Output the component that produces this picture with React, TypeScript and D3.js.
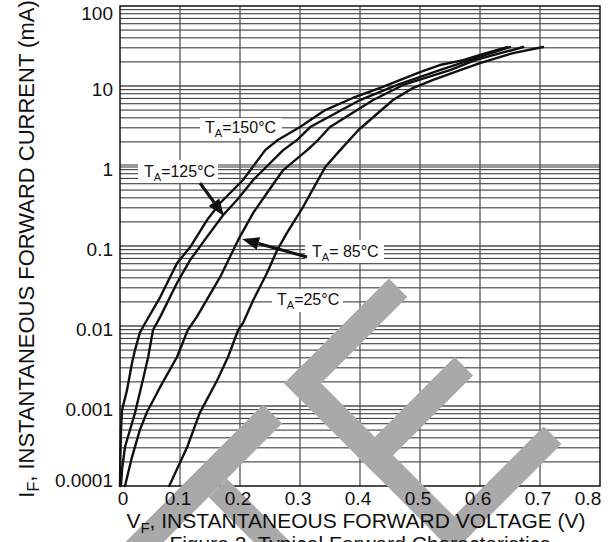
import * as d3 from 'd3'

const W = 615
const H = 542
const plot = { left: 120, right: 600, top: 6, bottom: 486 }

// axes
const xTicks = [0, 0.1, 0.2, 0.3, 0.4, 0.5, 0.6, 0.7, 0.8]
const xTickLabels = ['0', '0.1', '0.2', '0.3', '0.4', '0.5', '0.6', '0.7', '0.8']
const yTicks = [100, 10, 1, 0.1, 0.01, 0.001, 0.0001]
const yTickLabels = ['100', '10', '1', '0.1', '0.01', '0.001', '0.0001']

// forward voltage (V) / forward current (mA)
const vf150 = [0, 0.0005, 0.0017, 0.0033, 0.0117, 0.02, 0.025, 0.033, 0.042, 0.067, 0.095, 0.117, 0.145, 0.167, 0.205, 0.242, 0.263, 0.3, 0.342, 0.388, 0.438, 0.5, 0.533, 0.572, 0.6, 0.645]
const if150 = [0.0001, 0.00021, 0.0005, 0.00089, 0.00158, 0.00345, 0.005, 0.0082, 0.0109, 0.023, 0.061, 0.097, 0.211, 0.345, 0.668, 1.58, 2.11, 3.07, 5.0, 7.08, 9.72, 14.9, 18.3, 21.1, 24.4, 30.7]

const vf125 = [0.0017, 0.0033, 0.0083, 0.025, 0.038, 0.047, 0.055, 0.067, 0.095, 0.117, 0.145, 0.172, 0.195, 0.222, 0.242, 0.272, 0.295, 0.317, 0.4, 0.462, 0.533, 0.583, 0.65]
const if125 = [0.0001, 0.000158, 0.000307, 0.00082, 0.0021, 0.0041, 0.0089, 0.013, 0.0345, 0.067, 0.13, 0.244, 0.376, 0.668, 0.944, 1.58, 2.11, 3.07, 6.68, 10.3, 15.8, 21.1, 30.7]

const vf85 = [0.0083, 0.02, 0.033, 0.045, 0.067, 0.095, 0.113, 0.128, 0.167, 0.197, 0.222, 0.245, 0.272, 0.312, 0.33, 0.35, 0.422, 0.472, 0.55, 0.592, 0.672]
const if85 = [0.0001, 0.00023, 0.0005, 0.00084, 0.00173, 0.0041, 0.0089, 0.013, 0.041, 0.119, 0.259, 0.46, 0.89, 1.58, 2.11, 3.07, 6.68, 10.3, 15.8, 21.1, 30.7]

const vf25 = [0.082, 0.112, 0.133, 0.162, 0.18, 0.197, 0.205, 0.222, 0.245, 0.262, 0.278, 0.305, 0.342, 0.367, 0.397, 0.455, 0.488, 0.522, 0.567, 0.6, 0.655, 0.705]
const if25 = [0.0001, 0.000307, 0.00082, 0.0021, 0.0041, 0.0089, 0.0109, 0.021, 0.046, 0.089, 0.145, 0.307, 0.97, 1.58, 2.8, 6.68, 9.4, 11.9, 15.8, 19.3, 25.8, 30.7]

const series = [
  { name: '150', vf: vf150, ifw: if150 },
  { name: '125', vf: vf125, ifw: if125 },
  { name: '85', vf: vf85, ifw: if85 },
  { name: '25', vf: vf25, ifw: if25 },
]

const FONT = '"Liberation Sans", Arial, Helvetica, sans-serif'

function Label({ x, y, temp, box }: { x: number; y: number; temp: string; box: number[] }) {
  return (
    <g>
      <rect x={box[0]} y={box[1]} width={box[2]} height={box[3]} fill="#fff" />
      <text x={x} y={y} fontSize={16} fill="#111">
        <tspan>T</tspan>
        <tspan dy={4} fontSize={11}>A</tspan>
        <tspan dy={-4}>{temp}</tspan>
      </text>
    </g>
  )
}

function Arrow({ from, to }: { from: number[]; to: number[] }) {
  const ang = Math.atan2(to[1] - from[1], to[0] - from[0])
  const len = 17
  const hw = 6.5
  const bx = to[0] - len * Math.cos(ang)
  const by = to[1] - len * Math.sin(ang)
  const px = -Math.sin(ang) * hw
  const py = Math.cos(ang) * hw
  return (
    <g>
      <line x1={from[0]} y1={from[1]} x2={bx} y2={by} stroke="#111" strokeWidth={3} />
      <path d={`M${to[0]},${to[1]}L${bx + px},${by + py}L${bx - px},${by - py}Z`} fill="#111" />
    </g>
  )
}

export default function App() {
  const x = d3.scaleLinear().domain([0, 0.8]).range([plot.left, plot.right])
  const y = d3.scaleLog().domain([0.0001, 100]).range([plot.bottom, plot.top])

  const line = d3
    .line<[number, number]>()
    .x((d) => x(d[0]))
    .y((d) => y(d[1]))

  const minor: number[] = []
  for (let d = 0.0001; d < 100; d *= 10) {
    for (let k = 2; k <= 9; k++) minor.push(d * k)
  }

  return (
    <svg
      width={W}
      height={H}
      style={{ position: 'absolute', left: 0, top: 0, background: '#fff' }}
      fontFamily={FONT}
    >
      {/* grid */}
      <g>
        {minor.map((v, i) => (
          <line key={'m' + i} x1={plot.left} x2={plot.right} y1={y(v)} y2={y(v)} stroke="#2a2a2a" strokeWidth={1} />
        ))}
        {yTicks.slice(1, -1).map((v) => (
          <line
            key={'d' + v}
            x1={plot.left}
            x2={plot.right}
            y1={y(v)}
            y2={y(v)}
            stroke={v === 1 ? '#9a9a9a' : '#7a7a7a'}
            strokeWidth={v === 1 ? 4 : 2}
          />
        ))}
        {xTicks.slice(1, -1).map((v) => (
          <line key={'v' + v} x1={x(v)} x2={x(v)} y1={plot.top} y2={plot.bottom} stroke="#555" strokeWidth={1.3} />
        ))}
        <rect
          x={plot.left}
          y={plot.top}
          width={plot.right - plot.left}
          height={plot.bottom - plot.top}
          fill="none"
          stroke="#111"
          strokeWidth={1.5}
        />
      </g>

      {/* label backgrounds cut the grid */}
      <Label x={205} y={133} temp="=150°C" box={[200, 118, 82, 20]} />
      <Label x={144} y={177} temp="=125°C" box={[138, 160, 80, 23]} />
      <Label x={312} y={257} temp="= 85°C" box={[305, 240, 79, 23]} />
      <Label x={277} y={305} temp="=25°C" box={[272, 289, 71, 23]} />

      {/* curves */}
      <g fill="none" stroke="#111" strokeWidth={2.4} strokeLinejoin="round" strokeLinecap="round">
        {series.map((s) => (
          <path key={s.name} d={line(s.vf.map((v, i) => [v, s.ifw[i]] as [number, number])) || ''} />
        ))}
      </g>

      <Arrow from={[200, 183]} to={[224, 216]} />
      <Arrow from={[307, 257]} to={[242, 239]} />

      {/* watermark */}
      <g transform="rotate(45)" fill="#a9a9a9">
        <rect x={472} y={44} width={239} height={26} />
        <rect x={472} y={-78} width={26} height={148} />
        <rect x={574} y={-69} width={26} height={139} />
        <rect x={686} y={-83} width={25} height={153} />
        <rect x={472} y={100} width={27} height={230} />
        <rect x={499} y={178} width={160} height={26} />
      </g>

      {/* tick labels */}
      <g fontSize={19} fill="#111">
        {yTicks.map((v, i) => (
          <text key={'yl' + v} x={113} y={Math.max(20, Math.min(487, y(v) + 10))} textAnchor="end">
            {yTickLabels[i]}
          </text>
        ))}
        {xTicks.map((v, i) => (
          <text key={'xl' + v} x={Math.max(123, Math.min(588, x(v) - 2))} y={505} textAnchor="middle">
            {xTickLabels[i]}
          </text>
        ))}
      </g>

      {/* axis titles */}
      <text x={356} y={528} fontSize={21} textAnchor="middle" fill="#111">
        <tspan>V</tspan>
        <tspan dy={5} fontSize={15}>F</tspan>
        <tspan dy={-5}>, INSTANTANEOUS FORWARD VOLTAGE (V)</tspan>
      </text>
      <text transform="translate(34,249) rotate(-90)" fontSize={22} textAnchor="middle" fill="#111">
        <tspan>I</tspan>
        <tspan dy={5} fontSize={16}>F</tspan>
        <tspan dy={-5}>, INSTANTANEOUS FORWARD CURRENT (mA)</tspan>
      </text>
      <text x={360} y={551} fontSize={21} textAnchor="middle" fill="#111">
        Figure 2. Typical Forward Characteristics
      </text>
    </svg>
  )
}
